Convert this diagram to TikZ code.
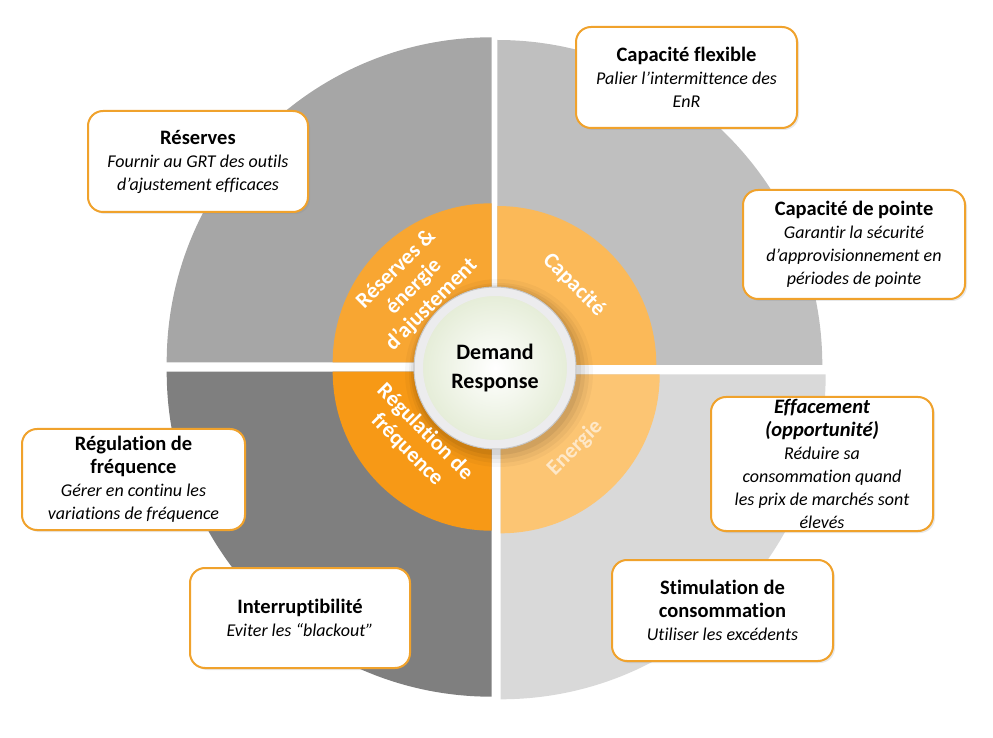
\documentclass[tikz,border=0pt]{standalone}
\usepackage{fontspec}
\setmainfont{Carlito}[Ligatures={TeX,NoCommon}]
\usetikzlibrary{shadows}
\definecolor{gtl}{HTML}{A6A6A6}
\definecolor{gtr}{HTML}{BFBFBF}
\definecolor{gbl}{HTML}{7F7F7F}
\definecolor{gbr}{HTML}{D9D9D9}
\definecolor{otl}{RGB}{248,166,50}
\definecolor{otr}{RGB}{251,185,88}
\definecolor{obl}{RGB}{247,153,22}
\definecolor{obr}{RGB}{252,197,115}
\definecolor{boxline}{RGB}{240,162,44}
\definecolor{drgreen}{RGB}{228,236,214}
\definecolor{drring}{RGB}{236,236,238}
\definecolor{paletxt}{RGB}{254,232,200}
\newcommand{\ttl}[1]{{\upshape\bfseries\fontsize{20.5}{23.5}\selectfont #1}}
\tikzset{
  box/.style={draw=boxline, line width=2pt, fill=white, rounded corners=15pt,
    align=center, inner sep=0pt, font=\itshape\fontsize{18}{23}\selectfont,
    drop shadow={opacity=0.18, shadow xshift=2pt, shadow yshift=-2pt}},
  ring/.style={text=white, align=center, font=\bfseries\fontsize{22}{25}\selectfont},
}
\begin{document}
\begin{tikzpicture}[x=1pt, y=1pt]
\useasboundingbox (0,0) rectangle (993,737);

\coordinate (c1) at (491.7,374.7);
\coordinate (c2) at (497.3,372);
\coordinate (c3) at (491.7,365.3);
\coordinate (c4) at (500.7,362.7);

\fill[gtl] (c1) -- ++(180:325) arc[start angle=180, end angle=90, radius=325] -- cycle;
\fill[gtr] (c2) -- ++(90:325) arc[start angle=90, end angle=0, radius=325] -- cycle;
\fill[gbl] (c3) -- ++(270:325) arc[start angle=270, end angle=180, radius=325] -- cycle;
\fill[gbr] (c4) -- ++(0:325) arc[start angle=0, end angle=-90, radius=325] -- cycle;

\fill[otl] (c1) -- ++(180:159) arc[start angle=180, end angle=90, radius=159] -- cycle;
\fill[otr] (c2) -- ++(90:159) arc[start angle=90, end angle=0, radius=159] -- cycle;
\fill[obl] (c3) -- ++(270:159) arc[start angle=270, end angle=180, radius=159] -- cycle;
\fill[obr] (c4) -- ++(0:159) arc[start angle=0, end angle=-90, radius=159] -- cycle;

\fill[black, opacity=0.03] (499,364) circle (94);
\fill[black, opacity=0.04] (499,364) circle (90);
\fill[black, opacity=0.05] (498,365) circle (87);
\fill[black, opacity=0.06] (497,366) circle (84);

\node[circle, minimum size=153, inner color=white, outer color=drgreen, draw=drring, line width=9pt,
  align=center, font=\bfseries\fontsize{22}{29}\selectfont] (dr) at (495,369) {Demand\\Response};
\draw[gray!45, line width=1pt] (dr.center) circle (81);

\node[ring, rotate=45] (r1) at (414,450) {Réserves \&\\énergie\\d'ajustement};
\node[ring, rotate=-45] (r2) at (574,452) {Capacité};
\node[ring, rotate=-45] (r3) at (416,296) {Régulation de\\fréquence};
\node[ring, rotate=45, text=paletxt] (r4) at (575,289) {Energie};

\node[box, minimum width=220, minimum height=101] (b1) at (198,575.5) {\ttl{Réserves}\\Fournir au GRT des outils\\d'ajustement efficaces};
\node[box, minimum width=221, minimum height=101] (b2) at (686.5,659.5) {\ttl{Capacité flexible}\\Palier l'intermittence des\\EnR};
\node[box, minimum width=222, minimum height=109] (b3) at (854,492.5) {\ttl{Capacité de pointe}\\Garantir la sécurité\\d'approvisionnement en\\périodes de pointe};
\node[box, minimum width=222, minimum height=134] (b4) at (822,273) {{\bfseries\fontsize{20.5}{23.5}\selectfont Effacement}\\{\bfseries\fontsize{20.5}{23.5}\selectfont (opportunité)}\\Réduire sa\\consommation quand\\les prix de marchés sont\\élevés};
\node[box, minimum width=221, minimum height=101] (b5) at (722.5,126.5) {\ttl{Stimulation de}\\\ttl{consommation}\\Utiliser les excédents};
\node[box, minimum width=220, minimum height=100] (b6) at (300,119) {\ttl{Interruptibilité}\\Eviter les “blackout”};
\node[box, minimum width=223, minimum height=101] (b7) at (133.5,257.5) {\ttl{Régulation de}\\\ttl{fréquence}\\Gérer en continu les\\variations de fréquence};
\end{tikzpicture}
\end{document}
